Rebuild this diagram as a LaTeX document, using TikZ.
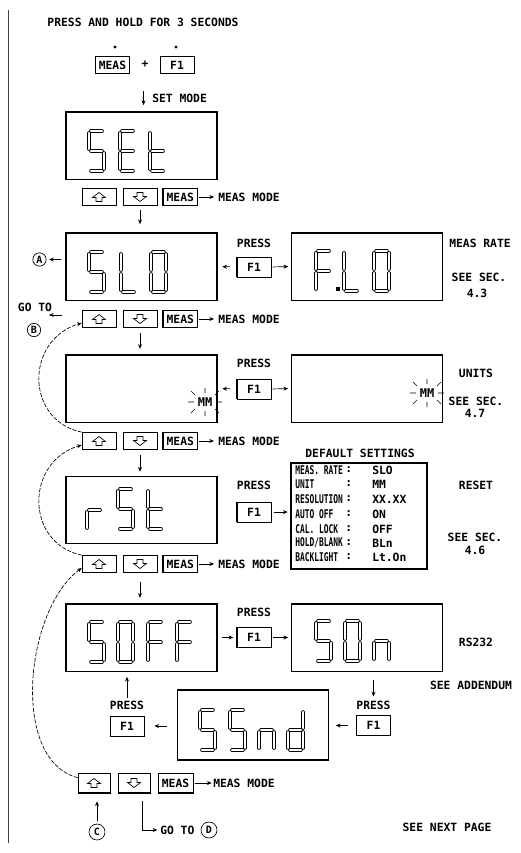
\documentclass[tikz,border=0pt]{standalone}
\usepackage{fontspec}
\setmainfont{DejaVu Sans Mono}
\newfontfamily\narrowfont[FakeStretch=0.66]{DejaVu Sans Mono}
\usetikzlibrary{arrows.meta}
\def\sga{(2,0)--(13,0)}
\def\sgb{(15,2)--(15,18)}
\def\sgc{(15,22)--(15,38)}
\def\sgd{(2,40)--(13,40)}
\def\sge{(0,22)--(0,38)}
\def\sgf{(0,2)--(0,18)}
\def\sgg{(2,20)--(13,20)}
\newcommand\dig[3]{\begin{scope}[shift={(#1,#2)}]\foreach \s in {#3}{\edef\tmpseg{\noexpand\draw[seg] \csname sg\s\endcsname;}\tmpseg}\end{scope}}
\newcommand\txtfnt{\bfseries\fontsize{8.5}{9}\selectfont}
\newcommand\setfnt{\narrowfont\bfseries\fontsize{9}{9}\selectfont}
\begin{document}
\begin{tikzpicture}[x=0.75pt,y=-0.75pt,
  seg/.style={draw=black, line width=0.45pt, double=white, double distance=1.8pt, line cap=round},
  txt/.style={inner sep=0pt, font=\txtfnt},
  stxt/.style={inner sep=0pt, font=\setfnt, anchor=west},
  vtxt/.style={inner sep=0pt, font=\txtfnt, anchor=west},
  btn/.style={draw, line width=0.5pt, minimum width=25.5pt, minimum height=12.75pt, inner sep=0pt, font=\txtfnt},
  fbtn/.style={draw, line width=0.5pt, minimum width=25.5pt, minimum height=15pt, inner sep=0pt, font=\txtfnt},
  disp/.style={draw, line width=1pt, minimum width=113.25pt, minimum height=50.5pt, inner sep=0pt},
  circ/.style={draw, circle, line width=0.5pt, minimum size=10pt, inner sep=0pt, font=\bfseries\fontsize{7.5}{8}\selectfont},
  dot/.style={circle, fill, inner sep=0pt, minimum size=2.5pt},
  arr/.style={-{Stealth[length=3.5pt,width=3pt]}, line width=0.5pt},
  curve/.style={-{Stealth[length=3.5pt,width=3pt]}, line width=0.5pt, dash pattern=on 3pt off 1.2pt},
  pics/uparr/.style={code={\draw[line width=0.5pt] (0,-4.5) -- (6.5,0.5) -- (3,0.5) -- (3,4.5) -- (-3,4.5) -- (-3,0.5) -- (-6.5,0.5) -- cycle;}},
  pics/dnarr/.style={code={\draw[line width=0.5pt] (0,4.5) -- (6.5,-0.5) -- (3,-0.5) -- (3,-4.5) -- (-3,-4.5) -- (-3,-0.5) -- (-6.5,-0.5) -- cycle;}},
  pics/blink/.style={code={
    \node[inner sep=0pt, font=\bfseries\fontsize{9}{9}\selectfont] (t) {MM};
    \draw[line width=0.5pt] (-17,0)--(-11,0) (11,0)--(17,0) (0,-9)--(0,-14) (0,9)--(0,14)
      (-10,-7)--(-14,-11) (10,-7)--(14,-11) (-10,7)--(-14,11) (10,7)--(14,11);}}
]
\useasboundingbox (0,0) rectangle (521,853);
\draw[line width=0.6pt, black!75] (8,10) -- (8,843);

% ---- top
\node[txt] (title) at (143,22) {PRESS AND HOLD FOR 3 SECONDS};
\node[btn] (tm) at (112.5,65) {MEAS};
\node[btn] (tf) at (177,65) {F1};
\node[dot] (dm) at (115,47) {};
\node[dot] (df) at (176,47) {};
\node[txt] (plus) at (145,64) {+};
\node[txt, anchor=west] (setmode) at (152,98) {SET MODE};
\coordinate (sm) at (143.5,91);

% ---- displays
\node[disp] (set) at (141.5,145.5) {};
\node[disp] (slo) at (141.5,266.5) {};
\node[disp] (flo) at (367,266.5) {};
\node[disp] (mmb) at (141.5,388.5) {};
\node[disp] (unb) at (367,388.5) {};
\node[disp] (rst) at (141.5,510) {};
\node[draw, line width=1pt, minimum width=102pt, minimum height=79.5pt, inner sep=0pt] (dft) at (359,516) {};
\node[disp] (sof) at (141.5,637.5) {};
\node[disp] (son) at (367,637.5) {};
\node[disp, minimum height=52.5pt] (ssn) at (253,725) {};
\draw[arr, shorten >=4.5pt] (sm) -- (sm |- set.north);

% digits
\dig{89}{131}{a,f,g,c,d}\dig{120}{131}{a,f,g,e,d}\dig{150}{131}{f,e,g,d}
\dig{89}{252}{a,f,g,c,d}\dig{121}{252}{f,e,d}\dig{151}{252}{a,b,c,d,e,f}
\dig{316}{251}{a,f,g,e}\fill (336,287) rectangle (340,291);\dig{344}{251}{f,e,d}\dig{374}{251}{a,b,c,d,e,f}
\dig{87}{490}{e,g}\dig{118}{489}{a,f,g,c,d}\dig{148}{489}{f,e,g,d}
\dig{89}{622}{a,f,g,c,d}\dig{118}{622}{a,b,c,d,e,f}\dig{148}{622}{a,f,g,e}\dig{177}{622}{a,f,g,e}
\dig{316}{621}{a,f,g,c,d}\dig{345}{621}{a,b,c,d,e,f}\dig{374}{621}{g,c,e}
\dig{200}{710}{a,f,g,c,d}\dig{230}{710}{a,f,g,c,d}\dig{259}{710}{g,c,e}\dig{288}{710}{b,c,d,e,g}
\pic (bl1) at (205,402) {blink};
\pic (bl2) at (427,393) {blink};

% ---- button rows
\foreach \r/\y in {1/197,2/319,3/441,4/564}{
  \node[btn] (u\r) at (99,\y) {};
  \pic at (u\r.center) {uparr};
  \node[btn] (d\r) at (140,\y) {};
  \pic at (d\r.center) {dnarr};
  \node[btn] (m\r) at (180.3,\y) {MEAS};
  \draw[line width=1.3pt] (m\r.north west) -- (m\r.south west);
  \node[txt, anchor=west] (mt\r) at (218,\y) {MEAS MODE};
  \draw[arr, shorten >=3pt, shorten <=1pt] (m\r.east) -- (mt\r.west);
}
\draw[arr, shorten <=3pt, shorten >=6pt] (d1.south) -- (d1.south |- slo.north);
\draw[arr, shorten <=4pt, shorten >=4pt] (d2.south) -- (d2.south |- mmb.north);
\draw[arr, shorten <=4pt, shorten >=3pt] (d3.south) -- (d3.south |- rst.north);
\draw[arr, shorten <=7pt, shorten >=4pt] (d4.south) -- (d4.south |- sof.north);

% ---- connectors A / B
\node[circ] (ca) at (39.5,259.5) {A};
\draw[arr, shorten <=3pt, shorten >=2pt] (slo.west |- ca) -- (ca.east);
\node[txt] (goto1) at (35,307) {GO TO};
\node[circ] (cb) at (34,330) {B};
\coordinate (gb) at (62,315);
\draw[arr] (gb) -- ++(-13,0);

% ---- dashed return curves
\draw[curve] (u3.north west) .. controls (25,420) and (25,340) .. ([yshift=-3pt]u2.west);
\draw[curve] (u4.north west) .. controls (25,543) and (25,462) .. ([yshift=-3pt]u3.west);

% ---- press F1 side
\node[txt] (p1) at (254,243) {PRESS};
\node[fbtn] (f1) at (254,267) {F1};
\draw[line width=1.2pt] (f1.north west) -- (f1.south west);
\draw[arr, shorten <=5pt, shorten >=3.5pt] (f1.west) -- (slo.east);
\draw[arr, shorten <=1pt, shorten >=2pt] (f1.east) -- (flo.west);
\node[txt] (p2) at (254,363) {PRESS};
\node[fbtn] (f2) at (254,389) {F1};
\draw[line width=1.2pt] (f2.north west) -- (f2.south west);
\draw[arr, shorten <=5pt, shorten >=3.5pt] (f2.west) -- (mmb.east);
\draw[arr, shorten <=1pt, shorten >=2pt] (f2.east) -- (unb.west);
\node[txt] (p3) at (254,485) {PRESS};
\node[fbtn] (f3) at (254,512) {F1};
\draw[line width=1.2pt] (f3.north west) -- (f3.south west);
\draw[arr, shorten <=2pt, shorten >=2pt] (f3.east) -- (f3.east -| dft.west);
\node[txt] (p4) at (254,612) {PRESS};
\node[fbtn] (f4) at (254,637.5) {F1};
\draw[line width=1.2pt] (f4.north west) -- (f4.south west);
\draw[arr, shorten <=3pt, shorten >=2.5pt] (sof.east) -- (f4.west);
\draw[arr, shorten <=1pt, shorten >=2pt] (f4.east) -- (son.west);
\node[txt] (p5) at (373.5,705) {PRESS};
\node[fbtn] (f5) at (373.5,725.5) {F1};
\draw[arr, shorten <=6pt, shorten >=3pt] (son.south -| p5) -- (p5.north);
\draw[arr, shorten <=6pt, shorten >=5pt] (f5.west) -- (f5.west -| ssn.east);
\node[txt] (p6) at (127,705) {PRESS};
\node[fbtn] (f6) at (127,726) {F1};
\draw[arr, shorten <=7.5pt, shorten >=7.5pt] (ssn.west |- f6) -- (f6.east);
\draw[arr, shorten <=2pt, shorten >=3.75pt] (p6.north) -- (p6.north |- sof.south);

% ---- default settings
\node[txt] (dst) at (360,453) {DEFAULT SETTINGS};
\foreach \i/\k/\v/\y in {1/MEAS. RATE/SLO/470, 2/UNIT/MM/484, 3/RESOLUTION/XX.XX/499, 4/AUTO OFF/ON/514, 5/CAL. LOCK/OFF/529, 6/HOLD\slash BLANK/BLn/543, 7/BACKLIGHT/Lt.On/557}{
  \node[stxt] (k\i) at (295,\y) {\k};
  \node[vtxt] (c\i) at (345,\y) {:};
  \node[vtxt] (v\i) at (372,\y) {\v};
}

% ---- right notes
\node[txt] (n1) at (480,243) {MEAS RATE};
\node[txt] (n2) at (479,277) {SEE SEC.};
\node[txt] (n3) at (477,293) {4.3};
\node[txt] (n4) at (476,373) {UNITS};
\node[txt] (n5) at (476,401) {SEE SEC.};
\node[txt] (n6) at (475,413) {4.7};
\node[txt] (n7) at (476,485) {RESET};
\node[txt] (n8) at (475,537) {SEE SEC.};
\node[txt] (n9) at (475,550) {4.6};
\node[txt] (n10) at (476,642) {RS232};
\node[txt] (n11) at (471,685) {SEE ADDENDUM};
\node[txt] (n12) at (447,827) {SEE NEXT PAGE};

% ---- bottom row
\node[btn, minimum width=24pt, minimum height=15pt] (u5) at (94,783) {};
\pic at (u5.center) {uparr};
\node[btn, minimum width=24pt, minimum height=15pt] (d5) at (134,783) {};
\pic at (d5.center) {dnarr};
\node[btn, minimum width=26pt, minimum height=15pt] (m5) at (175.5,783) {MEAS};
\draw[line width=1.3pt] (u5.south west) -- (u5.south east) (d5.south west) -- (d5.south east) (m5.south west) -- (m5.south east);
\node[txt, anchor=west] (mt5) at (213,783) {MEAS MODE};
\draw[arr, shorten >=1pt, shorten <=1pt] (m5.east) -- (mt5.west);
\draw[curve] ([yshift=4pt]u5.west) .. controls (10,760) and (25,610) .. ([yshift=-3pt]u4.west);
\node[circ, minimum size=12pt] (cc) at (97,832) {C};
\draw[arr, shorten >=6pt, shorten <=2pt] (cc.north) -- (cc.north |- u5.south);
\node[txt, anchor=west] (goto2) at (160,830) {GO TO};
\node[circ, minimum size=12pt] (cd) at (209,830) {D};
\draw[arr, shorten <=6pt, shorten >=2pt] ([xshift=6pt]d5.south) |- (goto2.west);
\end{tikzpicture}
\end{document}
